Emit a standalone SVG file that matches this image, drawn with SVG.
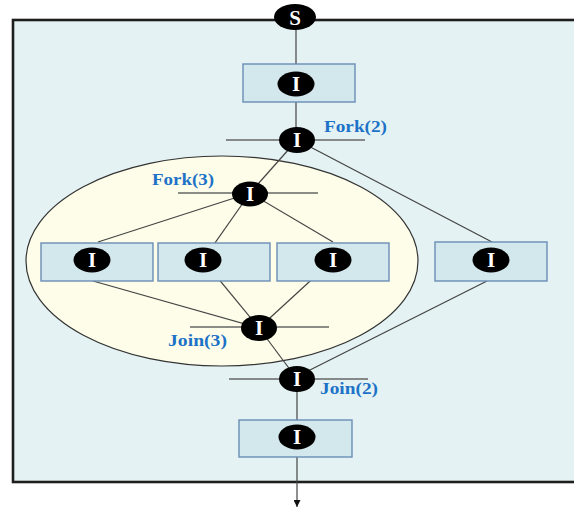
<svg xmlns="http://www.w3.org/2000/svg" width="574" height="511" viewBox="0 0 574 511">
  <style>
    .frame { fill: #e4f2f3; stroke: #1e1e1e; stroke-width: 2.6; }
    .region { fill: #fdfde9; stroke: #333; stroke-width: 1.2; }
    .box { fill: #d3e8ed; stroke: #6a8db5; stroke-width: 1.4; }
    .node { fill: #000; }
    .glyph { fill: #fff; font-family: "Liberation Serif", "Times New Roman", serif; font-weight: bold; font-size: 21px; text-anchor: middle; }
    .edge { stroke: #444; stroke-width: 1.2; fill: none; }
    .bar { stroke: #666; stroke-width: 1.6; }
    .label { fill: #1d72c8; font-family: "Liberation Serif", "Times New Roman", serif; font-weight: bold; font-size: 16px; }
  </style>
  <defs>
    <marker id="arrow" markerWidth="8" markerHeight="7" refX="7" refY="3.5" orient="auto" markerUnits="userSpaceOnUse">
      <path d="M0,0 L7,3.5 L0,7 Z" fill="#111"/>
    </marker>
  </defs>

  <!-- process frame and nested fork/join region -->
  <rect class="frame" x="13" y="20" width="575" height="462"/>
  <ellipse class="region" cx="222" cy="261" rx="196" ry="105"/>

  <!-- connectors -->
  <g id="connectors">
    <line class="edge" x1="296" y1="20" x2="296" y2="140"/>
    <line class="edge" x1="297" y1="140" x2="250" y2="193"/>
    <line class="edge" x1="297" y1="140" x2="492" y2="242"/>
    <line class="edge" x1="250" y1="193" x2="98" y2="242"/>
    <line class="edge" x1="250" y1="193" x2="203" y2="260"/>
    <line class="edge" x1="250" y1="193" x2="333" y2="242"/>
    <line class="edge" x1="93" y1="281" x2="259" y2="328"/>
    <line class="edge" x1="203" y1="260" x2="259" y2="328"/>
    <line class="edge" x1="333" y1="260" x2="259" y2="328"/>
    <line class="edge" x1="259" y1="328" x2="297" y2="379"/>
    <line class="edge" x1="487" y1="281" x2="300" y2="375"/>
    <line class="edge" x1="297" y1="379" x2="297" y2="507" marker-end="url(#arrow)"/>
    <line class="bar" x1="226" y1="140" x2="365" y2="140"/>
    <line class="bar" x1="178" y1="193" x2="318" y2="193"/>
    <line class="bar" x1="190" y1="327" x2="329" y2="327"/>
    <line class="bar" x1="229" y1="379" x2="368" y2="379"/>
  </g>

  <g id="start">
    <ellipse class="node" cx="295" cy="17" rx="21" ry="13"/>
    <text class="glyph" x="295" y="25">S</text>
  </g>

  <g id="task-top">
    <rect class="box" x="243" y="64" width="112" height="38"/>
    <ellipse class="node" cx="296" cy="84" rx="18.5" ry="12.5"/>
    <text class="glyph" x="296" y="91">I</text>
  </g>

  <g id="fork2">
    <ellipse class="node" cx="297" cy="140" rx="18" ry="13"/>
    <text class="glyph" x="297" y="147">I</text>
    <text class="label" x="324" y="132" textLength="63" lengthAdjust="spacingAndGlyphs">Fork(2)</text>
  </g>

  <g id="fork3">
    <ellipse class="node" cx="250" cy="194" rx="18" ry="12.5"/>
    <text class="glyph" x="250" y="201">I</text>
    <text class="label" x="152" y="185" textLength="62" lengthAdjust="spacingAndGlyphs">Fork(3)</text>
  </g>

  <g id="task-a">
    <rect class="box" x="41" y="243" width="112" height="38"/>
    <ellipse class="node" cx="92" cy="260" rx="18.5" ry="12.5"/>
    <text class="glyph" x="92" y="267">I</text>
  </g>

  <g id="task-b">
    <rect class="box" x="158" y="243" width="112" height="38"/>
    <ellipse class="node" cx="203" cy="260" rx="18.5" ry="12.5"/>
    <text class="glyph" x="203" y="267">I</text>
  </g>

  <g id="task-c">
    <rect class="box" x="277" y="243" width="112" height="38"/>
    <ellipse class="node" cx="333" cy="260" rx="18.5" ry="12.5"/>
    <text class="glyph" x="333" y="267">I</text>
  </g>

  <g id="task-d">
    <rect class="box" x="435" y="242" width="112" height="39"/>
    <ellipse class="node" cx="491" cy="260" rx="18.5" ry="12.5"/>
    <text class="glyph" x="491" y="267">I</text>
  </g>

  <g id="join3">
    <ellipse class="node" cx="259" cy="328" rx="18" ry="13"/>
    <text class="glyph" x="259" y="335">I</text>
    <text class="label" x="168" y="346" textLength="59" lengthAdjust="spacingAndGlyphs">Join(3)</text>
  </g>

  <g id="join2">
    <ellipse class="node" cx="297" cy="379" rx="18" ry="13"/>
    <text class="glyph" x="297" y="386">I</text>
    <text class="label" x="320" y="394" textLength="58" lengthAdjust="spacingAndGlyphs">Join(2)</text>
  </g>

  <g id="task-bottom">
    <rect class="box" x="239" y="420" width="113" height="37"/>
    <ellipse class="node" cx="297" cy="437" rx="18.5" ry="12.5"/>
    <text class="glyph" x="297" y="444">I</text>
  </g>
</svg>
